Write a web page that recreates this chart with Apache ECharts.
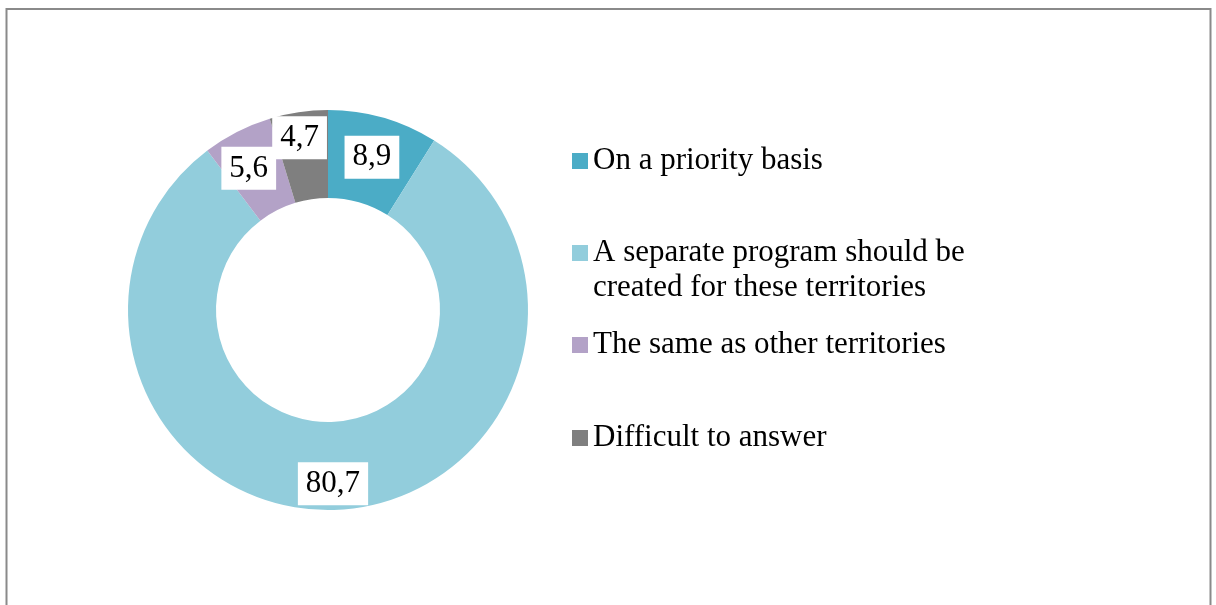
<!DOCTYPE html>
<html>
<head>
<meta charset="utf-8">
<script src="https://cdn.jsdelivr.net/npm/echarts@6/dist/echarts.min.js"></script>
<style>
  html, body { margin: 0; padding: 0; background: #ffffff; }
  #chart { width: 1216px; height: 605px; }
</style>
</head>
<body>
<div id="chart"></div>
<script>
// Answer categories and their shares (%)
const categories = [
  'On a priority basis',
  'A separate program should be\ncreated for these territories',
  'The same as other territories',
  'Difficult to answer'
];
const shares = [8.9, 80.7, 5.6, 4.7];
const sliceColors = ['#4BACC6', '#92CDDC', '#B3A2C7', '#7F7F7F'];

// Small nudges for value labels that would otherwise crowd each other
const labelNudge = [[0, 0], [-2, 15], [-7, 0], [-5, -15]];

// Legend row centres (y) for each category
const legendRowY = [161, 253, 345, 438];

const FONT = "'Liberation Serif', 'Times New Roman', serif";
const LINE_H = 35;

const legends = categories.map((name, i) => {
  const lines = name.split('\n').length;
  // Multi-line entries get blank lines on top so the icon lines up with the first text line
  const lead = lines - 1;
  const boxH = (lines + lead) * LINE_H;
  return {
    data: [name],
    orient: 'vertical',
    left: 572,
    top: legendRowY[i] - boxH / 2,
    padding: 0,
    itemWidth: 16,
    itemHeight: 16,
    icon: 'rect',
    selectedMode: false,
    formatter: n => '\n'.repeat(lead) + n,
    textStyle: {
      fontFamily: FONT,
      fontSize: 31,
      color: '#000000',
      lineHeight: LINE_H
    }
  };
});

const chart = echarts.init(document.getElementById('chart'), null, { renderer: 'canvas' });
chart.setOption({
  backgroundColor: '#ffffff',
  animation: false,
  color: sliceColors,
  legend: legends,
  graphic: [{
    type: 'rect',
    shape: { x: 6.5, y: 9, width: 1204, height: 700 },
    style: { fill: 'none', stroke: '#8a8a8a', lineWidth: 2 },
    silent: true,
    z: -1
  }],
  series: [{
    type: 'pie',
    center: [328, 310],
    radius: [112, 200],
    startAngle: 90,
    clockwise: true,
    avoidLabelOverlap: false,
    itemStyle: { borderWidth: 0 },
    emphasis: { disabled: true },
    label: {
      show: true,
      position: 'inside',
      formatter: p => String(p.value).replace('.', ','),
      fontFamily: FONT,
      fontSize: 31,
      color: '#000000',
      backgroundColor: '#ffffff',
      lineHeight: 35,
      padding: [4, 8, 4, 8]
    },
    labelLine: { show: false },
    labelLayout: params => ({
      dx: labelNudge[params.dataIndex][0],
      dy: labelNudge[params.dataIndex][1]
    }),
    data: categories.map((name, i) => ({ name, value: shares[i] }))
  }]
});
</script>
</body>
</html>
